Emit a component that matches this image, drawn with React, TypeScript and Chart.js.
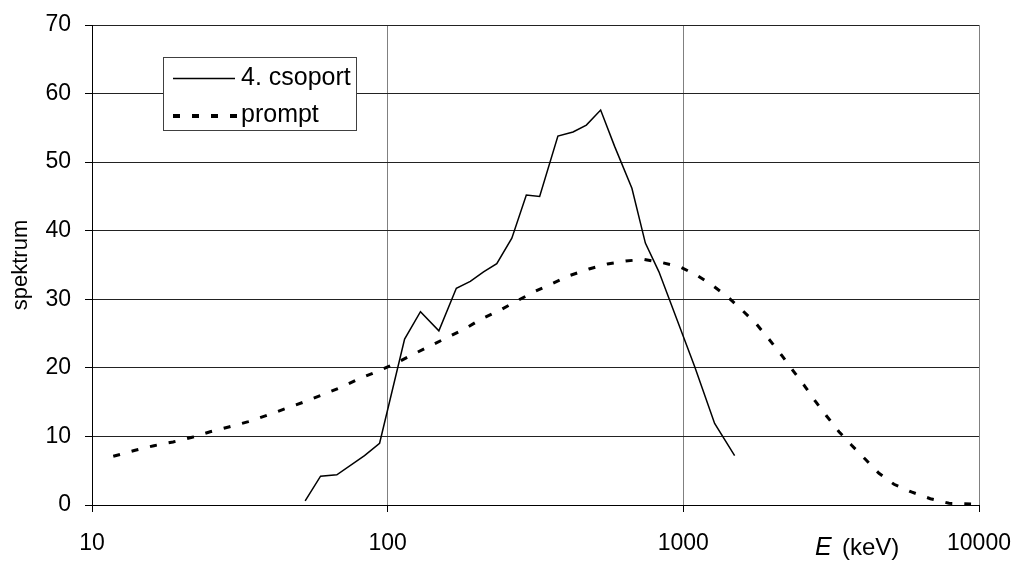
import React, { useEffect, useRef } from 'react';
import { Chart, registerables } from 'chart.js';

Chart.register(...registerables);

// "4. csoport" series (energy in keV, spectrum value)
const group4Energy = [52.6, 59.3, 67.3, 83.5, 93.9, 114.1, 129.1, 149, 170.7, 190.3, 211, 233.9, 263, 294.4, 326.6, 376.5, 423.6, 469.9, 525.2, 585.6, 670, 744, 827, 1092, 1276, 1491];
const group4Values = [0.6, 4.2, 4.4, 7.2, 9.0, 24.2, 28.2, 25.4, 31.6, 32.6, 34.0, 35.2, 38.9, 45.2, 45.0, 53.8, 54.4, 55.4, 57.6, 52.3, 46.2, 38.2, 34.0, 20.2, 11.9, 7.2];

// "prompt" series
const promptEnergy = [11.8, 14.0, 16.2, 18.8, 21.8, 25.1, 29.0, 33.8, 39.1, 45.1, 52.1, 60.4, 70.0, 80.8, 92.9, 107.4, 122.7, 140.4, 159.8, 183.5, 207.4, 240.4, 274.5, 315.7, 362.2, 414.8, 479.3, 553.4, 638, 735.6, 849, 971.6, 1107, 1260, 1423, 1578, 1766, 1949, 2146, 2349, 2573, 2803, 3046, 3361, 3702, 4128, 4589, 5158, 5906, 6847, 7916, 9400];
const promptValues = [7.1, 7.98, 8.65, 9.19, 9.87, 10.69, 11.38, 12.15, 13.08, 14.05, 15.02, 16.09, 17.21, 18.48, 19.52, 20.75, 22.02, 23.29, 24.46, 25.77, 27.13, 28.44, 29.8, 31.17, 32.34, 33.5, 34.42, 35.15, 35.58, 35.83, 35.34, 34.75, 33.54, 31.98, 30.23, 28.44, 26.4, 24.17, 21.88, 19.6, 17.35, 15.06, 13.02, 10.69, 8.75, 6.67, 4.62, 3.02, 1.9, 0.92, 0.25, 0.15];

const xTickValues = [10, 100, 1000, 10000];
const seriesLabels = ['4. csoport', 'prompt'];
const yAxisTitle = 'spektrum';

const FONT = '"Liberation Sans", Arial, sans-serif';

export default function App() {
  const ref = useRef<HTMLCanvasElement>(null);

  useEffect(() => {
    document.body.style.margin = '0';
    const ctx = ref.current;
    if (!ctx) return;
    const chart = new Chart(ctx, {
      type: 'line',
      data: {
        datasets: [
          {
            label: seriesLabels[0],
            data: group4Energy.map((e, i) => ({ x: e, y: group4Values[i] })),
            borderColor: '#000',
            borderWidth: 1.5,
            pointRadius: 0,
            tension: 0,
            fill: false,
          },
          {
            label: seriesLabels[1],
            data: promptEnergy.map((e, i) => ({ x: e, y: promptValues[i] })),
            borderColor: '#000',
            borderWidth: 3,
            borderDash: [7, 12],
            borderCapStyle: 'butt',
            pointRadius: 0,
            tension: 0,
            fill: false,
          },
        ],
      },
      options: {
        animation: false,
        responsive: false,
        devicePixelRatio: 1,
        layout: { padding: { top: 25, right: 37, left: 0, bottom: 0 } },
        plugins: { legend: { display: false }, tooltip: { enabled: false } },
        scales: {
          x: {
            type: 'logarithmic',
            min: 10,
            max: 10000,
            afterBuildTicks: (s: any) => {
              s.ticks = xTickValues.map((v) => ({ value: v }));
            },
            afterFit: (s: any) => {
              s.height = 66;
              s.paddingLeft = 0;
              s.paddingRight = 0;
            },
            ticks: {
              callback: (v: any) => String(v),
              font: { family: FONT, size: 23 },
              color: '#000',
              padding: 18,
              maxRotation: 0,
              autoSkip: false,
            },
            grid: { color: '#808080', tickColor: '#000', tickLength: 7, lineWidth: 1 },
            border: { color: '#000', width: 1 },
          },
          y: {
            min: 0,
            max: 70,
            afterFit: (s: any) => {
              s.width = 92;
              s.paddingTop = 0;
              s.paddingBottom = 0;
            },
            ticks: {
              stepSize: 10,
              font: { family: FONT, size: 23 },
              color: '#000',
              padding: 14,
            },
            grid: { color: '#222', tickColor: '#000', tickLength: 7, lineWidth: 1 },
            border: { color: '#000', width: 1 },
            title: {
              display: true,
              text: yAxisTitle,
              font: { family: FONT, size: 22 },
              color: '#000',
              padding: { top: 8, bottom: 0 },
            },
          },
        },
      },
    });
    return () => chart.destroy();
  }, []);

  return (
    <div style={{ position: 'relative', width: 1016, height: 571, fontFamily: FONT }}>
      <canvas ref={ref} width={1016} height={571} style={{ display: 'block' }} />
      <svg
        width={1016}
        height={571}
        style={{ position: 'absolute', left: 0, top: 0, pointerEvents: 'none' }}
      >
        <rect x={163.5} y={57.5} width={193} height={73} fill="#fff" stroke="#404040" strokeWidth={1} />
        <line x1={173} y1={78.5} x2={235} y2={78.5} stroke="#000" strokeWidth={1.5} />
        <line x1={173} y1={116} x2={237} y2={116} stroke="#000" strokeWidth={4} strokeDasharray="7 12" />
        <text x={241} y={85} fontFamily={FONT} fontSize={25} fill="#000">{seriesLabels[0]}</text>
        <text x={241} y={122} fontFamily={FONT} fontSize={25} fill="#000">{seriesLabels[1]}</text>
        <text x={815} y={555} fontFamily={FONT} fontSize={25} fontStyle="italic" fill="#000">E</text>
        <text x={842} y={555} fontFamily={FONT} fontSize={24} fill="#000">(keV)</text>
      </svg>
    </div>
  );
}
